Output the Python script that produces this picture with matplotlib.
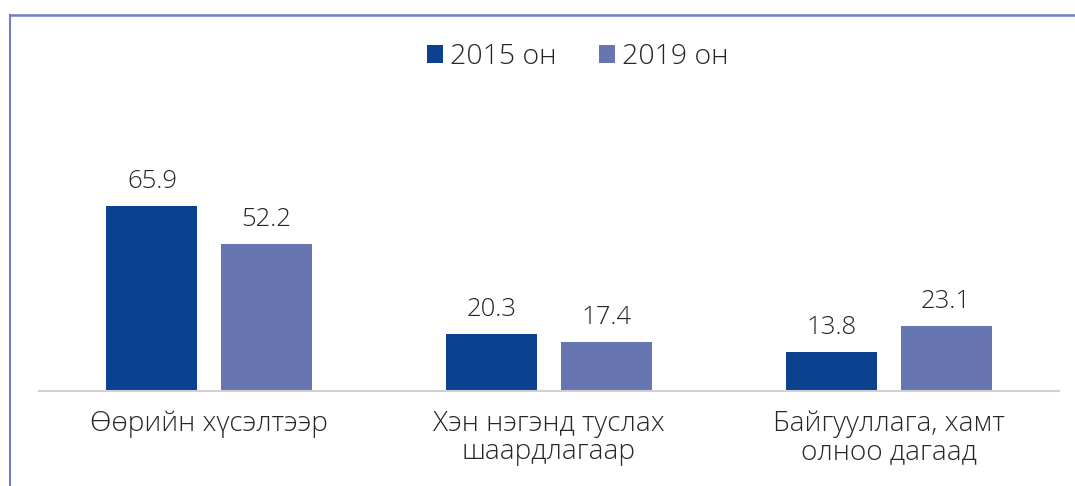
import matplotlib
matplotlib.use("Agg")
import matplotlib.pyplot as plt
import numpy as np
from matplotlib.lines import Line2D
from matplotlib.patches import Patch

categories = ["Өөрийн хүсэлтээр", "Хэн нэгэнд туслах\nшаардлагаар", "Байгууллага, хамт\nолноо дагаад"]
series_names = ["2015 он", "2019 он"]
values_2015 = [65.9, 20.3, 13.8]
values_2019 = [52.2, 17.4, 23.1]
colors = ["#0b418f", "#6776b0"]

plt.rcParams['font.family'] = ['Open Sans', 'DejaVu Sans']
plt.rcParams['font.weight'] = 300
text_color = "#262626"

fig = plt.figure(figsize=(10.75, 4.86), dpi=100)
ax = fig.add_axes([39/1075, 95/486, 1020/1075, 280.7/486])

x = np.arange(len(categories))
w = 0.268
off = 0.168
b1 = ax.bar(x - off, values_2015, w, color=colors[0], label=series_names[0])
b2 = ax.bar(x + off, values_2019, w, color=colors[1], label=series_names[1])

for bars, vals in ((b1, values_2015), (b2, values_2019)):
    for r, v in zip(bars, vals):
        ax.annotate(f"{v:.1f}", (r.get_x() + r.get_width()/2, r.get_height()),
                    xytext=(0, 9), textcoords="offset points", ha="center", va="bottom",
                    fontsize=18.5, color=text_color, fontweight=300)

ax.set_xlim(-0.5, 2.5)
ax.set_ylim(0, 100)
ax.set_xticks(x)
ax.set_xticklabels(categories, fontsize=20.2, color=text_color, linespacing=1.0, fontweight=300)
ax.tick_params(axis='x', length=0, pad=14)
ax.set_yticks([])
for s in ("top", "right", "left"):
    ax.spines[s].set_visible(False)
ax.spines["bottom"].set_color("#d0d0d0")
ax.spines["bottom"].set_linewidth(1.5)

handles = [Patch(facecolor=colors[0]), Patch(facecolor=colors[1])]
fig.legend(handles, series_names, loc="center", bbox_to_anchor=(578/1075, 1 - 57/486),
           ncol=2, frameon=False, fontsize=20.5, handlelength=0.55, handleheight=0.55,
           handletextpad=0.25, columnspacing=1.5, labelcolor=text_color,
           prop={'weight': 300, 'size': 20.5})

# outer frame lines (top and left)
fig.add_artist(Line2D([9.5/1075, 1.0], [1 - 15.5/486, 1 - 15.5/486], color="#7080c0", lw=1.8))
fig.add_artist(Line2D([9.5/1075, 9.5/1075], [0, 1 - 15.5/486], color="#7080c0", lw=1.5))

fig.savefig("out.png", dpi=100)
